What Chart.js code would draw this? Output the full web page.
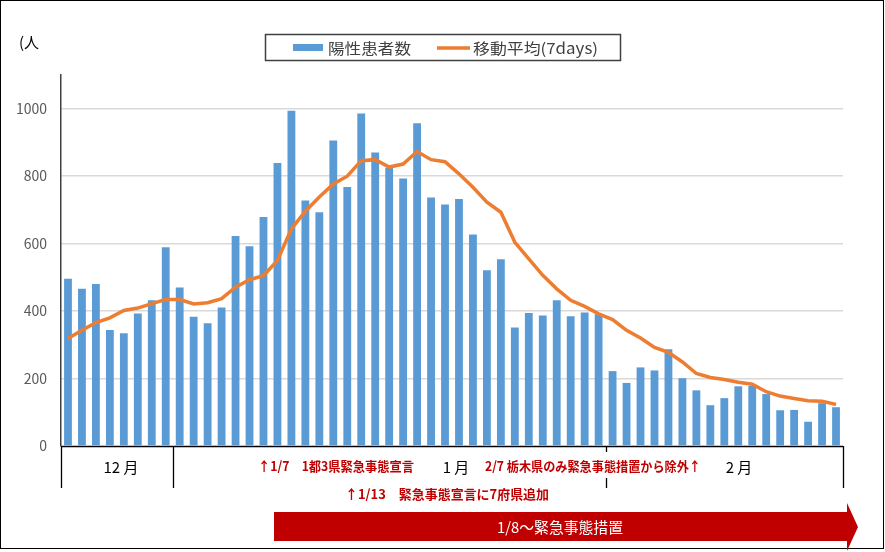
<!DOCTYPE html>
<html lang="ja">
<head>
<meta charset="utf-8">
<script src="https://cdn.jsdelivr.net/npm/chart.js@4"></script>
<style>
  html, body { margin: 0; padding: 0; background: #fff; }
  #wrap { width: 885px; height: 552px; }
</style>
</head>
<body>
<div id="wrap"><canvas id="chart" width="885" height="552"></canvas></div>
<script>
// ---------- Data ----------
// 12/24 .. 2/17, one entry per day
const days = [
  '12/24','12/25','12/26','12/27','12/28','12/29','12/30','12/31',
  '1/1','1/2','1/3','1/4','1/5','1/6','1/7','1/8','1/9','1/10','1/11','1/12','1/13','1/14','1/15','1/16',
  '1/17','1/18','1/19','1/20','1/21','1/22','1/23','1/24','1/25','1/26','1/27','1/28','1/29','1/30','1/31',
  '2/1','2/2','2/3','2/4','2/5','2/6','2/7','2/8','2/9','2/10','2/11','2/12','2/13','2/14','2/15','2/16','2/17'
];
const positives = [
  496, 466, 480, 344, 334, 393, 432, 589,
  470, 383, 364, 411, 623, 592, 679, 839, 994, 728, 693, 906, 768, 986, 870, 825,
  793, 957, 737, 716, 732, 627, 521, 554, 351, 394, 387, 432, 385, 396, 391,
  222, 187, 233, 224, 287, 201, 165, 121, 142, 177, 178, 154, 106, 107, 72, 127, 115
];
const movingAvg = [
  319, 343, 366, 380, 402, 409, 422, 434,
  434, 421, 425, 437, 471, 493, 505, 550, 644, 696, 738, 777, 800, 846, 849, 827,
  836, 873, 849, 843, 807, 767, 723, 693, 604, 555, 506, 466, 432, 414, 392,
  375, 343, 320, 292, 278, 249, 215, 203, 197, 189, 183, 161, 148, 141, 134, 133, 123
];
// month label + first/last day index
const months = [
  { label: '12 月', from: 0, to: 7 },
  { label: '1 月', from: 8, to: 38 },
  { label: '2 月', from: 39, to: 55 }
];
const yTicks = [0, 200, 400, 600, 800, 1000];

const BLUE = '#5b9bd5';
const ORANGE = '#ed7d31';
const DARKRED = '#c00000';
const JP = '"Noto Sans CJK JP", "Noto Sans", sans-serif';

// draw text squeezed/stretched to a given width
function fitText(ctx, text, x, y, width, align) {
  const w = ctx.measureText(text).width;
  const sx = width / w;
  ctx.save();
  let left = x;
  if (align === 'center') left = x - width / 2;
  else if (align === 'right') left = x - width;
  ctx.translate(left, y);
  ctx.scale(sx, 1);
  ctx.textAlign = 'left';
  ctx.fillText(text, 0, 0);
  ctx.restore();
}

const decorations = {
  id: 'decorations',
  afterDraw(chart) {
    const { ctx, chartArea } = chart;
    const xs = chart.scales.x;
    const L = chartArea.left, R = chartArea.right, B = chartArea.bottom;
    const half = (xs.getPixelForValue(1) - xs.getPixelForValue(0)) / 2;
    ctx.save();

    // outer frame
    ctx.strokeStyle = '#000';
    ctx.lineWidth = 1;
    ctx.strokeRect(0.5, 0.5, 883, 548);

    // unit label
    ctx.fillStyle = '#000';
    ctx.font = '15px ' + JP;
    ctx.textBaseline = 'middle';
    ctx.fillText('(人', 19, 42);

    // legend box
    ctx.strokeStyle = '#404040';
    ctx.lineWidth = 1.5;
    ctx.strokeRect(265.5, 34.5, 355, 26);
    ctx.fillStyle = BLUE;
    ctx.fillRect(293, 44, 30, 7);
    ctx.strokeStyle = ORANGE;
    ctx.lineWidth = 3.5;
    ctx.beginPath();
    ctx.moveTo(437, 48);
    ctx.lineTo(470, 48);
    ctx.stroke();
    ctx.fillStyle = '#404040';
    ctx.font = '15px ' + JP;
    fitText(ctx, '陽性患者数', 328, 48, 83, 'left');
    fitText(ctx, '移動平均(7days)', 473, 48, 125, 'left');

    // category table lines under the axis
    ctx.strokeStyle = '#000';
    ctx.lineWidth = 1.3;
    ctx.beginPath();
    ctx.moveTo(L, B + 0.5);
    ctx.lineTo(R, B + 0.5);
    const bounds = [L, xs.getPixelForValue(months[0].to) + half, R];
    bounds.forEach((bx) => {
      const px = Math.round(bx) + 0.5;
      ctx.moveTo(px, B);
      ctx.lineTo(px, B + 42);
    });
    const febEdge = Math.round(xs.getPixelForValue(months[1].to) + half) + 0.5;
    ctx.moveTo(febEdge, B);
    ctx.lineTo(febEdge, B + 6);
    ctx.moveTo(febEdge, B + 32);
    ctx.lineTo(febEdge, B + 42);
    ctx.stroke();

    // month labels
    ctx.fillStyle = '#000';
    ctx.font = '15px ' + JP;
    ctx.textAlign = 'center';
    const monthX = [121, 456, 739];
    months.forEach((m, i) => ctx.fillText(m.label, monthX[i], 467));

    // annotations
    ctx.fillStyle = DARKRED;
    ctx.font = 'bold 13px ' + JP;
    fitText(ctx, '↑1/7　1都3県緊急事態宣言', 258, 466, 156, 'left');
    fitText(ctx, '2/7 栃木県のみ緊急事態措置から除外↑', 485, 466, 216, 'left');
    fitText(ctx, '↑1/13　緊急事態宣言に7府県追加', 345, 494, 204, 'left');

    // red arrow band
    ctx.fillStyle = DARKRED;
    ctx.beginPath();
    ctx.moveTo(274, 512);
    ctx.lineTo(847, 512);
    ctx.lineTo(847, 503);
    ctx.lineTo(858, 527);
    ctx.lineTo(847, 551);
    ctx.lineTo(847, 541);
    ctx.lineTo(274, 541);
    ctx.closePath();
    ctx.fill();
    ctx.fillStyle = '#fff';
    ctx.font = '15px ' + JP;
    fitText(ctx, '1/8～緊急事態措置', 560, 527, 126, 'center');

    ctx.restore();
  }
};

new Chart(document.getElementById('chart'), {
  data: {
    labels: days,
    datasets: [
      {
        type: 'line',
        label: '移動平均(7days)',
        data: movingAvg,
        borderColor: ORANGE,
        borderWidth: 3.5,
        pointRadius: 0,
        tension: 0,
        order: 0
      },
      {
        type: 'bar',
        label: '陽性患者数',
        data: positives,
        backgroundColor: BLUE,
        borderWidth: 0,
        categoryPercentage: 1,
        barPercentage: 0.56,
        order: 1
      }
    ]
  },
  options: {
    responsive: false,
    animation: false,
    layout: { padding: { left: 0, right: 42, top: 75, bottom: 106 } },
    plugins: {
      legend: { display: false },
      tooltip: { enabled: false }
    },
    scales: {
      x: {
        type: 'category',
        offset: true,
        display: false
      },
      y: {
        min: 0,
        max: 1100,
        afterFit: (scale) => { scale.width = 61; },
        afterBuildTicks: (scale) => {
          scale.ticks = yTicks.concat([1100]).map((v) => ({ value: v }));
        },
        border: { display: true, color: '#404040', width: 1.5 },
        grid: {
          drawTicks: false,
          color: (c) => (c.tick && (c.tick.value === 1100 || c.tick.value === 0)) ? 'rgba(0,0,0,0)' : '#d9d9d9',
          lineWidth: 1.5
        },
        ticks: {
          padding: 14,
          color: '#595959',
          font: { family: JP, size: 14 },
          callback: (v) => (v === 1100 ? '' : v)
        }
      }
    }
  },
  plugins: [decorations]
});
</script>
</body>
</html>
